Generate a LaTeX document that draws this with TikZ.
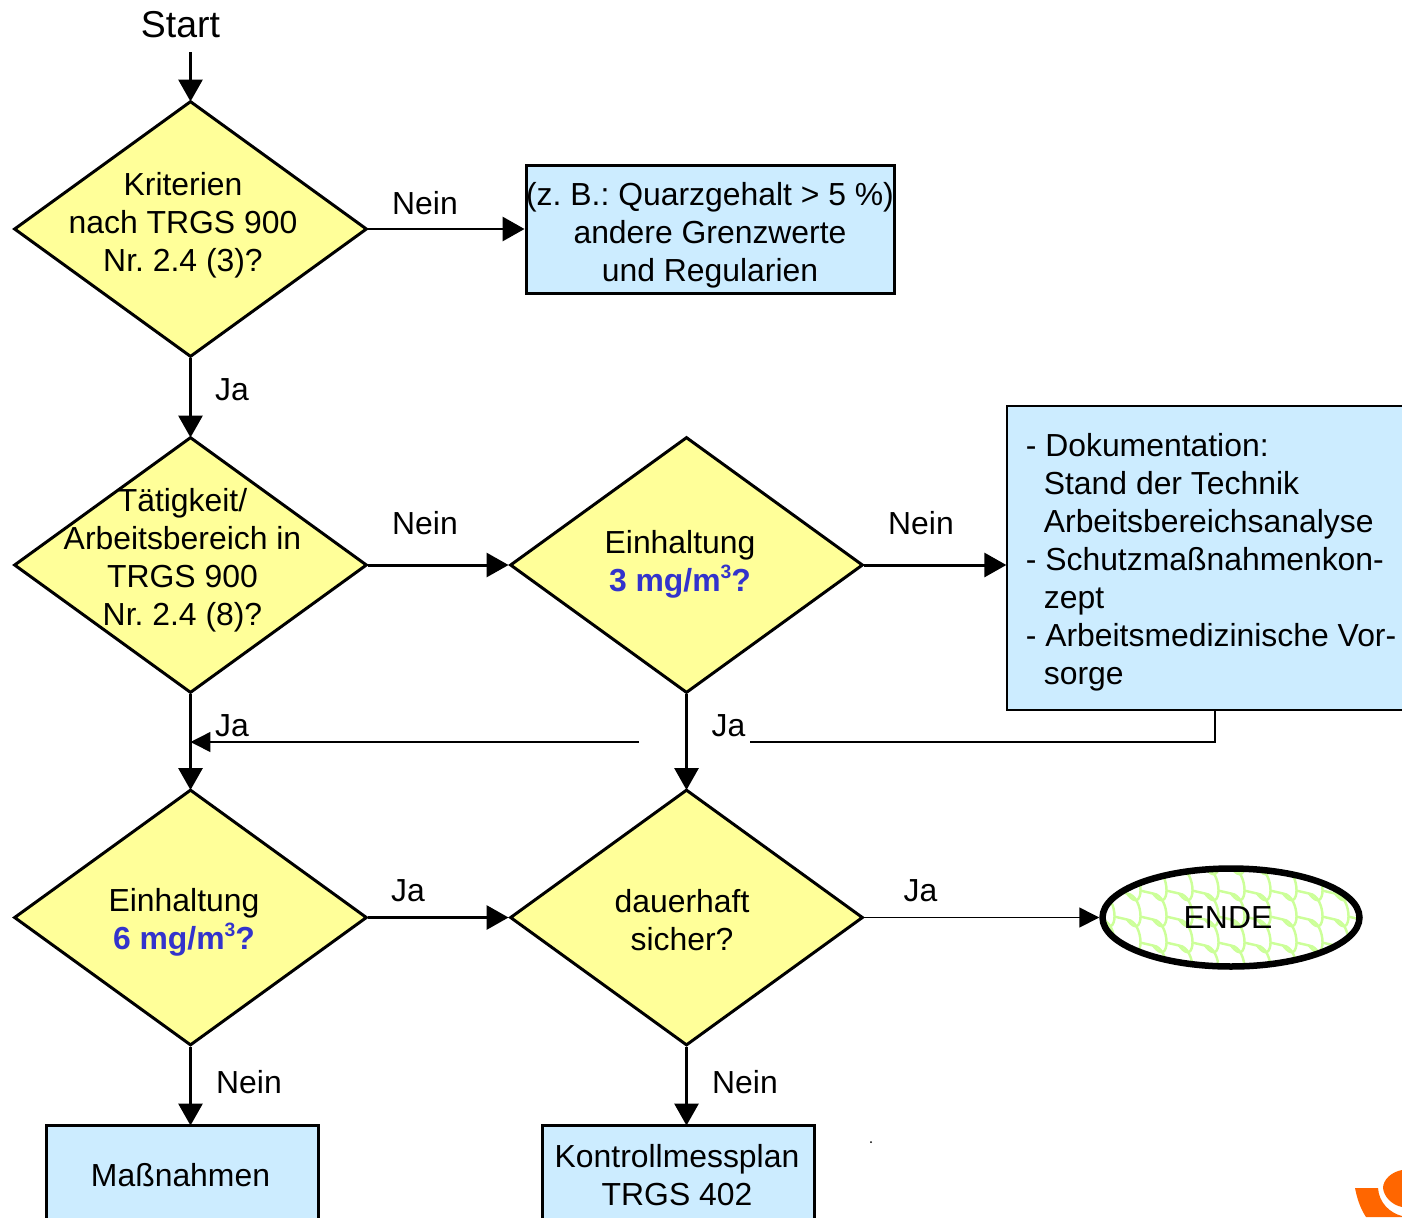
\documentclass[tikz,border=0pt]{standalone}
\usepackage{fontspec}
\setmainfont{Liberation Sans}
\usetikzlibrary{shapes.geometric}
\usetikzlibrary{arrows.meta}
\definecolor{decyellow}{HTML}{FFFF99}
\definecolor{boxblue}{HTML}{CCECFF}
\definecolor{limitblue}{HTML}{3333CC}
\definecolor{scalegreen}{HTML}{CCFF99}
\definecolor{logoorange}{HTML}{FF6600}
\newcommand{\limit}[1]{\textcolor{limitblue}{\bfseries #1 mg/m\raisebox{0.42em}{\fontsize{11}{11}\selectfont 3}?}}
\newcommand{\indentline}{\hspace{0.36cm}}

\begin{document}
\frenchspacing
\begin{tikzpicture}[x=0.02cm, y=-0.02cm,
			font=\fontsize{18.15}{21.6}\selectfont,
			txt/.style    = {align=center, inner sep=0pt},
			dec/.style    = {draw, diamond, line width=1.7pt, fill=decyellow, inner sep=0pt, minimum width=7.06cm, minimum height=5.12cm},
			box_1/.style  = {draw, rectangle, fill=boxblue, inner sep=0pt},
			flow/.style   = {line width=1.7pt, -{Triangle[width=0.48cm,length=0.44cm]}},
			flowdown/.style = {flow, shorten >=-0.04cm},
			flowthin/.style = {line width=0.85pt, -{Triangle[width=0.4cm,length=0.4cm]}},]

			\useasboundingbox (0,0) rectangle (1402,1217);
			\clip (0,0) rectangle (1402,1217);

			% DECISIONS
			\node[dec] (krit) at (190.5,229) {};
			\node[dec] (taet) at (190.5,565) {};
			\node[dec] (drei) at (686.5,565) {};
			\node[dec] (sechs) at (190.5,917.5) {};
			\node[dec] (dauer) at (686.5,917.5) {};
			\node[txt] (kritText) at (183,225) {Kriterien\\nach TRGS 900\\Nr. 2.4 (3)?};
			\node[txt] (taetText) at (182.5,560) {Tätigkeit/\\Arbeitsbereich in\\TRGS 900\\Nr. 2.4 (8)?};
			\node[txt] (dreiText) at (680,564.5) {Einhaltung\\\limit{3}};
			\node[txt] (sechsText) at (184,922.5) {Einhaltung\\\limit{6}};
			\node[txt] (dauerText) at (682,920) {dauerhaft\\sicher?};

			% BOXES
			\node[box_1, line width=1.7pt, minimum width=7.38cm, minimum height=2.58cm] (andere) at (710.5,229.5) {};
			\node[txt] (andereText) at (710,235.5) {(z. B.: Quarzgehalt > 5 \%)\\andere Grenzwerte\\und Regularien};
			\node[box_1, line width=0.8pt, minimum width=8.32cm, minimum height=6.08cm] (doku) at (1215,558) {};
			\node[txt, anchor=west, align=left] (dokuText) at (1025.5,562.5) {- Dokumentation:\\\indentline Stand der Technik\\\indentline Arbeitsbereichsanalyse\\- Schutzmaßnahmenkon-\\\indentline zept\\- Arbeitsmedizinische Vor-\\\indentline sorge};
			\node[box_1, line width=1.7pt, minimum width=5.46cm, minimum height=2cm] (mass) at (182.5,1175) {};
			\node[txt] (massText) at (180.5,1175) {Maßnahmen};
			\node[box_1, line width=1.7pt, minimum width=5.46cm, minimum height=2cm] (kontroll) at (678.5,1175) {};
			\node[txt] (kontrollText) at (677,1175) {Kontrollmessplan\\TRGS 402};

			% END
			\node[draw, ellipse, line width=3.7pt, inner sep=0pt, minimum width=5.14cm, minimum height=1.96cm,
				path picture={
					\begin{scope}[shift={(path picture bounding box.center)}, scalegreen, line width=1.4pt]
					\foreach \col in {-5,...,5}{
						\foreach \row in {-3,...,3}{
							\draw (\col*26,\row*26+2) .. controls ++(18,2) and ++(18,24) .. ++(0,26);
							\draw (\col*26,\row*26+2) -- ++(-13,-3);
						}
					}
					\end{scope}
				}] (ende) at (1231,917.5) {};
			\node[txt] (endeText) at (1228,917.5) {ENDE};

			% START AND ARROWS
			\node[txt, font=\fontsize{21.3}{25}\selectfont] (start) at (180.5,25) {Start};
			\coordinate (startEnd) at (190.5,52);
			\draw[flowdown] (startEnd) -- (krit.north);
			\draw[flow] (krit.east) -- (krit.east -| andere.west);
			\draw[flowdown] (krit.south) -- (taet.north);
			\draw[flow] (taet.east) -- (drei.west);
			\draw[flow] (drei.east) -- (drei.east -| doku.west);
			\draw[flowdown] (taet.south) -- (sechs.north);
			\draw[flowdown] (drei.south) -- (dauer.north);
			\draw[flow] (sechs.east) -- (dauer.west);
			\draw[flowthin] (dauer.east) -- (ende.west);
			\draw[flowdown] (sechs.south) -- (sechs.south |- mass.north);
			\draw[flowdown] (dauer.south) -- (dauer.south |- kontroll.north);
			% RETURN LINES
			\coordinate (backEnd) at (639,742);
			\coordinate (dokuEnd) at (750,742);
			\draw[flowthin] (backEnd) -- (backEnd -| taet.south);
			\draw[line width=0.85pt] (doku.south) |- (dokuEnd);

			% LABELS
			\node[txt] (neinA) at (425,203.5) {Nein};
			\node[txt] (jaA) at (232,390) {Ja};
			\node[txt] (neinB) at (425,523.5) {Nein};
			\node[txt] (neinC) at (921,523.5) {Nein};
			\node[txt] (jaB) at (232,726) {Ja};
			\node[txt] (jaC) at (728.5,726) {Ja};
			\node[txt] (jaD) at (408,891) {Ja};
			\node[txt] (jaE) at (920.5,891) {Ja};
			\node[txt] (neinD) at (249,1082.5) {Nein};
			\node[txt] (neinE) at (745,1082.5) {Nein};

			% SPECK AND LOGO
			\fill (871,1142) circle (1);
			\fill[logoorange] (1355,1188) -- (1378,1188) .. controls (1379,1203) and (1390,1213) .. (1402,1216) -- (1402,1217) -- (1366,1217) .. controls (1360,1208) and (1357,1198) .. cycle;
			\fill[logoorange] (1402,1170) .. controls (1391,1172) and (1383,1180) .. (1383,1188) .. controls (1384,1197) and (1392,1205) .. (1402,1207) -- cycle;
\end{tikzpicture}
\end{document}
